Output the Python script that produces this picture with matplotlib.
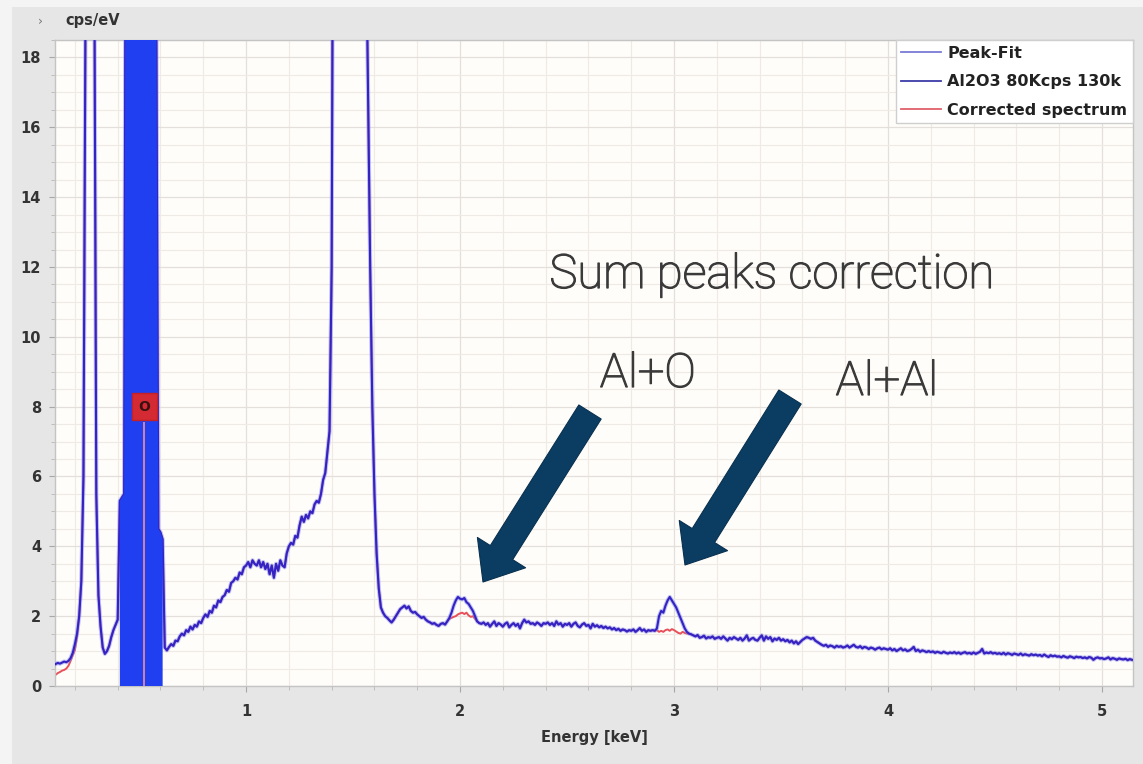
import numpy as np
import matplotlib
matplotlib.use("Agg")
import matplotlib.pyplot as plt
import matplotlib.patheffects as pe
from matplotlib.ticker import MultipleLocator
from matplotlib.lines import Line2D
from matplotlib.patches import Rectangle

# ---------------- data ----------------
E_START = 0.10   # keV, first channel shown
E_STEP = 0.01    # keV per channel

# measured spectrum "Al2O3 80Kcps 130k" (cps/eV), one row = 0.1 keV
measured_rows = [
    [0.60, 0.63, 0.66, 0.64, 0.67, 0.70, 0.68, 0.72, 0.80, 0.95],   # 0.10
    [1.20, 1.50, 2.00, 3.00, 6.00, 20.0, 55.0, 80.0, 60.0, 22.0],   # 0.20
    [5.50, 2.60, 1.70, 1.10, 0.92, 1.00, 1.15, 1.40, 1.60, 1.75],   # 0.30
    [1.90, 5.30, 5.40, 5.50, 30.0, 60.0, 90.0, 110., 120., 130.],   # 0.40
    [140., 150., 145., 130., 110., 90.0, 70.0, 50.0, 20.0, 4.50],   # 0.50
    [4.40, 4.20, 1.10, 1.02, 1.12, 1.20, 1.15, 1.30, 1.28, 1.42],   # 0.60
    [1.50, 1.45, 1.60, 1.55, 1.70, 1.62, 1.75, 1.70, 1.85, 1.80],   # 0.70
    [1.95, 2.05, 1.98, 2.15, 2.10, 2.30, 2.25, 2.45, 2.40, 2.55],   # 0.80
    [2.60, 2.75, 2.70, 2.95, 3.00, 3.10, 3.05, 3.25, 3.20, 3.40],   # 0.90
    [3.45, 3.55, 3.40, 3.60, 3.50, 3.45, 3.60, 3.40, 3.55, 3.35],   # 1.00
    [3.50, 3.20, 3.45, 3.10, 3.50, 3.30, 3.60, 3.45, 3.40, 3.80],   # 1.10
    [4.00, 4.10, 4.05, 4.30, 4.25, 4.60, 4.85, 4.70, 4.90, 4.80],   # 1.20
    [5.00, 4.95, 5.20, 5.30, 5.25, 5.50, 5.90, 6.10, 6.70, 7.30],   # 1.30
    [12.0, 30.0, 120., 250., 400., 500., 550., 560., 520., 450.],   # 1.40
    [350., 250., 150., 90.0, 50.0, 30.0, 22.0, 17.0, 12.0, 8.00],   # 1.50
    [5.50, 3.80, 2.80, 2.25, 2.10, 2.00, 1.95, 1.88, 1.82, 1.90],   # 1.60
    [2.00, 2.10, 2.20, 2.25, 2.30, 2.22, 2.28, 2.15, 2.10, 2.12],   # 1.70
    [2.05, 2.00, 1.95, 1.98, 1.90, 1.85, 1.82, 1.78, 1.80, 1.75],   # 1.80
    [1.72, 1.78, 1.80, 1.76, 1.85, 1.95, 2.10, 2.30, 2.45, 2.55],   # 1.90
    [2.50, 2.48, 2.52, 2.40, 2.35, 2.25, 2.15, 2.00, 1.85, 1.80],   # 2.00
    [1.78, 1.82, 1.75, 1.80, 1.70, 1.78, 1.85, 1.72, 1.80, 1.76],   # 2.10
    [1.70, 1.78, 1.82, 1.68, 1.75, 1.80, 1.72, 1.78, 1.65, 1.80],   # 2.20
    [1.90, 1.82, 1.85, 1.78, 1.80, 1.75, 1.82, 1.78, 1.72, 1.80],   # 2.30
    [1.78, 1.82, 1.75, 1.80, 1.72, 1.85, 1.76, 1.80, 1.70, 1.78],   # 2.40
    [1.75, 1.80, 1.70, 1.78, 1.82, 1.72, 1.68, 1.76, 1.80, 1.72],   # 2.50
    [1.75, 1.65, 1.78, 1.70, 1.74, 1.68, 1.72, 1.66, 1.70, 1.65],   # 2.60
    [1.68, 1.62, 1.66, 1.60, 1.64, 1.58, 1.62, 1.60, 1.56, 1.60],   # 2.70
    [1.58, 1.62, 1.55, 1.60, 1.66, 1.58, 1.62, 1.55, 1.60, 1.58],   # 2.80
    [1.60, 1.58, 1.65, 2.00, 2.15, 2.10, 2.30, 2.45, 2.55, 2.45],   # 2.90
    [2.35, 2.25, 2.10, 1.95, 1.80, 1.65, 1.55, 1.50, 1.48, 1.45],   # 3.00
    [1.42, 1.46, 1.38, 1.40, 1.44, 1.36, 1.40, 1.38, 1.42, 1.35],   # 3.10
    [1.38, 1.40, 1.35, 1.42, 1.36, 1.30, 1.38, 1.34, 1.40, 1.36],   # 3.20
    [1.32, 1.38, 1.30, 1.36, 1.45, 1.30, 1.35, 1.38, 1.32, 1.30],   # 3.30
    [1.38, 1.45, 1.30, 1.42, 1.35, 1.40, 1.28, 1.36, 1.32, 1.38],   # 3.40
    [1.30, 1.34, 1.28, 1.32, 1.25, 1.30, 1.22, 1.28, 1.20, 1.26],   # 3.50
    [1.32, 1.36, 1.40, 1.38, 1.35, 1.38, 1.30, 1.26, 1.22, 1.18],   # 3.60
    [1.15, 1.18, 1.12, 1.16, 1.14, 1.10, 1.15, 1.12, 1.14, 1.10],   # 3.70
    [1.12, 1.16, 1.10, 1.14, 1.18, 1.12, 1.10, 1.14, 1.08, 1.12],   # 3.80
    [1.10, 1.06, 1.10, 1.08, 1.04, 1.08, 1.10, 1.05, 1.08, 1.06],   # 3.90
    [1.04, 1.08, 1.02, 1.06, 1.00, 1.04, 1.08, 1.02, 1.05, 1.00],   # 4.00
    [1.02, 1.06, 1.12, 1.00, 1.04, 0.98, 1.02, 1.00, 0.97, 1.00],   # 4.10
    [0.97, 0.99, 0.95, 0.98, 0.96, 0.94, 0.98, 0.95, 0.93, 0.96],   # 4.20
    [0.94, 0.97, 0.93, 0.96, 0.92, 0.95, 0.97, 0.93, 0.95, 0.92],   # 4.30
    [0.96, 0.92, 0.95, 0.98, 1.06, 0.93, 0.96, 0.94, 0.97, 0.93],   # 4.40
    [0.95, 0.92, 0.94, 0.91, 0.95, 0.90, 0.94, 0.92, 0.89, 0.93],   # 4.50
    [0.91, 0.89, 0.93, 0.88, 0.91, 0.89, 0.87, 0.91, 0.88, 0.90],   # 4.60
    [0.87, 0.89, 0.85, 0.90, 0.86, 0.83, 0.88, 0.85, 0.87, 0.84],   # 4.70
    [0.85, 0.82, 0.86, 0.83, 0.81, 0.85, 0.83, 0.80, 0.84, 0.82],   # 4.80
    [0.83, 0.80, 0.82, 0.79, 0.83, 0.81, 0.75, 0.80, 0.82, 0.79],   # 4.90
    [0.80, 0.77, 0.79, 0.82, 0.76, 0.80, 0.78, 0.75, 0.79, 0.77],   # 5.00
    [0.76, 0.78, 0.74, 0.77, 0.75],                                 # 5.10
]

# corrected spectrum differs from the measured one only here
corr_low_start = 0.10
corr_low_vals = [0.30, 0.32, 0.37, 0.40, 0.44, 0.46, 0.50, 0.58, 0.72, 0.88, 1.03, 1.40, 2.00]
corr_alo_start = 1.95   # Al+O sum peak removed
corr_alo_vals = [1.92, 1.95, 1.98, 2.00, 2.05, 2.08, 2.10, 2.06, 2.10, 2.02, 1.98, 2.00, 1.92, 1.85]
corr_alal_start = 2.92  # Al+Al sum peak removed
corr_alal_vals = [1.60, 1.55, 1.58, 1.55, 1.60, 1.62, 1.58, 1.63, 1.60, 1.56, 1.52, 1.50, 1.55, 1.52, 1.50, 1.50]

o_roi = (0.41, 0.61)        # keV, highlighted O K region
o_line_energy = 0.525       # keV, O K-alpha marker
o_label_height = 8.0

series_labels = ["Peak-Fit", "Al2O3 80Kcps 130k", "Corrected spectrum"]
xlabel = "Energy [keV]"
ylabel = "cps/eV"
title_text = "Sum peaks correction"
arrow_labels = ["Al+O", "Al+Al"]

# ---------------- build arrays ----------------
measured = np.array([v for row in measured_rows for v in row])
energy = np.round(E_START + E_STEP * np.arange(len(measured)), 2)
peak_fit = measured.copy()
corrected = measured.copy()
for start, vals in [(corr_low_start, corr_low_vals), (corr_alo_start, corr_alo_vals),
                    (corr_alal_start, corr_alal_vals)]:
    i0 = int(round((start - E_START) / E_STEP))
    corrected[i0:i0 + len(vals)] = vals

# ---------------- figure ----------------
W, H = 1143, 764
fig = plt.figure(figsize=(W / 100, H / 100), dpi=100, facecolor="#e6e6e6")
fig.patches.append(Rectangle((0, 0), 12 / W, 1, transform=fig.transFigure,
                             facecolor="#f4f4f4", edgecolor="none", zorder=0))
fig.patches.append(Rectangle((0, 1 - 7 / H), 1, 7 / H, transform=fig.transFigure,
                             facecolor="#f4f4f4", edgecolor="none", zorder=0))

ax = fig.add_axes([55 / W, 1 - 686 / H, 1078 / W, 646 / H])
ax.set_facecolor("#fffdf9")
ax.set_xlim(0.107, 5.145)
ax.set_ylim(0, 18.5)

ax.xaxis.set_major_locator(MultipleLocator(1))
ax.xaxis.set_minor_locator(MultipleLocator(0.2))
ax.yaxis.set_major_locator(MultipleLocator(2))
ax.yaxis.set_minor_locator(MultipleLocator(0.5))
ax.grid(which="major", color="#e4dfdb", lw=0.9)
ax.grid(which="minor", color="#eeeae6", lw=0.8)
ax.set_axisbelow(True)
ax.tick_params(which="major", direction="out", length=4, color="#a8a8a8",
               labelsize=10.5, labelcolor="#333333")
ax.tick_params(which="minor", direction="out", length=3, color="#b8b8b8")
ax.tick_params(axis="y", pad=6)
ax.tick_params(axis="x", pad=9)
for lab in ax.get_xticklabels() + ax.get_yticklabels():
    lab.set_fontweight("bold")
for sp in ax.spines.values():
    sp.set_color("#c4c4c4")
    sp.set_linewidth(1.0)

ax.set_xlabel(xlabel, fontsize=10.5, fontweight="bold", color="#333333", labelpad=8)
fig.text(65 / W, 1 - 21 / H, ylabel, fontsize=10.5, fontweight="bold",
         color="#333333", ha="left", va="center")
fig.text(40 / W, 1 - 21 / H, "\u203a", fontsize=9, color="#777777",
         ha="center", va="center")

# spectra
c_fit, c_meas, c_corr = "#8088ee", "#3322c4", "#e8505a"
ax.plot(energy, corrected, color=c_corr, lw=1.4, zorder=2)
ax.plot(energy, peak_fit, color=c_fit, lw=3.0, alpha=0.5, zorder=3)
ax.plot(energy, measured, color=c_meas, lw=1.5, zorder=4)

# O region
mask = (energy >= o_roi[0] - 1e-9) & (energy <= o_roi[1] + 1e-9)
ax.fill_between(energy[mask], 0, measured[mask], color="#1f3ff0", lw=0, zorder=5)
ax.vlines(o_line_energy, 0, o_label_height - 0.45, color="#ee8f9a", lw=1.2, zorder=6)
ax.text(o_line_energy, o_label_height, "O", ha="center", va="center", fontsize=10,
        fontweight="bold", color="#3a1010", zorder=7,
        bbox=dict(boxstyle="square,pad=0.45", fc="#d42a33", ec="#c42028"))

# legend
handles = [Line2D([], [], color="#7b7bd6", lw=1.3),
           Line2D([], [], color="#3b3ba8", lw=1.3),
           Line2D([], [], color="#e0606a", lw=1.3)]
leg = ax.legend(handles, series_labels, loc="upper right", borderaxespad=0,
                prop=dict(weight="bold", size=11.5), handlelength=2.5,
                handletextpad=0.4, labelspacing=0.85, borderpad=0.35,
                fancybox=False, framealpha=1, edgecolor="#cfcfcf", facecolor="white")
leg.get_frame().set_linewidth(1.0)
for t in leg.get_texts():
    t.set_color("#222222")
leg.set_zorder(10)

# annotations
txt_color = "#3a3a3a"
txt_kw = dict(ha="center", va="baseline", fontsize=34, family="Roboto",
              fontweight="light", color=txt_color,
              path_effects=[pe.withStroke(linewidth=0.9, foreground=txt_color)])
fig.text(772 / W, 1 - 288 / H, title_text, **txt_kw)
fig.text(648 / W, 1 - 387 / H, arrow_labels[0], **txt_kw)
fig.text(887 / W, 1 - 395 / H, arrow_labels[1], **txt_kw)

arrow_style = "simple,head_length=1.25,head_width=2.05,tail_width=0.95"
for tail, tip in [((590, H - 412), (483, H - 582)), ((790, H - 397), (685, H - 565))]:
    ax.annotate("", xy=tip, xytext=tail, xycoords="figure pixels",
                textcoords="figure pixels",
                arrowprops=dict(arrowstyle=arrow_style, mutation_scale=20,
                                fc="#0b3d63", ec="#08304f", lw=0.8,
                                shrinkA=0, shrinkB=0), zorder=12)

fig.savefig("out.png", dpi=100, facecolor=fig.get_facecolor())
